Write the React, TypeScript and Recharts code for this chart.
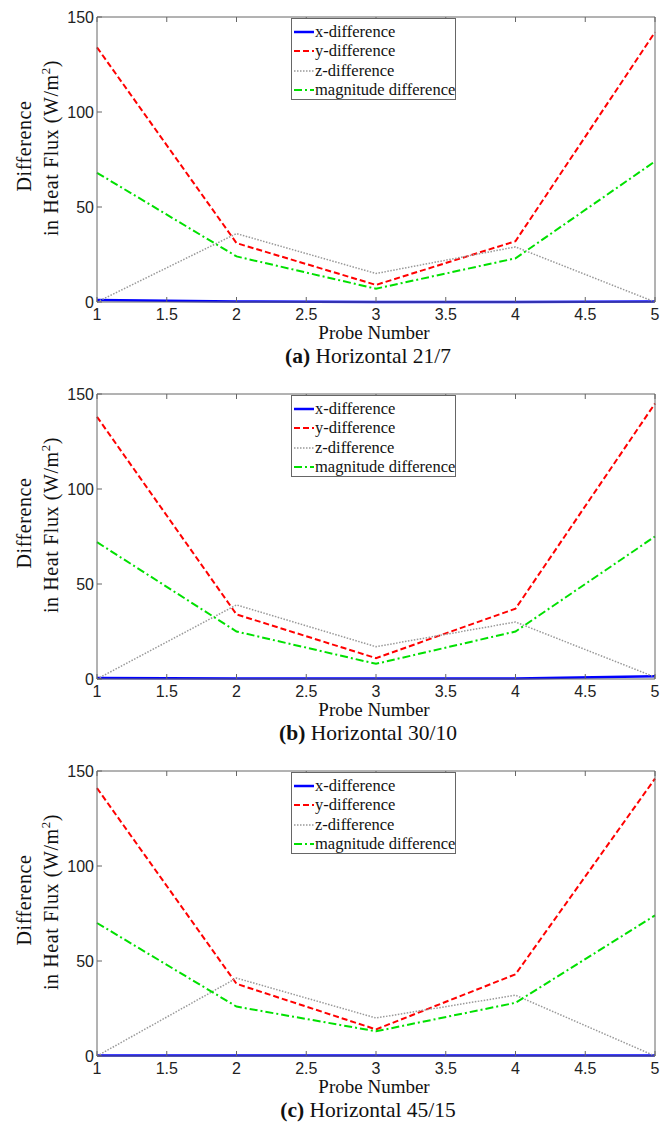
import { LineChart, Line, XAxis, YAxis } from 'recharts';

const probes = [1, 2, 3, 4, 5];
const xTicks = [1, 1.5, 2, 2.5, 3, 3.5, 4, 4.5, 5];
const yTicks = [0, 50, 100, 150];

// (a) Horizontal 21/7
const xDiffA = [1, 0.3, 0, 0, 0.2];
const yDiffA = [134, 31, 9, 32, 142];
const zDiffA = [0, 36, 15, 29, 0];
const magDiffA = [68, 24, 7, 23, 74];

// (b) Horizontal 30/10
const xDiffB = [0.5, 0.3, 0.2, 0.3, 1.5];
const yDiffB = [138, 34, 11, 37, 145];
const zDiffB = [0, 39, 17, 30, 1];
const magDiffB = [72, 25, 8, 25, 75];

// (c) Horizontal 45/15
const xDiffC = [0.2, 0.2, 0.2, 0.2, 0.2];
const yDiffC = [141, 38, 14, 43, 146];
const zDiffC = [0, 41, 20, 32, 0];
const magDiffC = [70, 26, 13, 28, 74];

const series = [
  { key: 'x', name: 'x-difference', color: '#0000ff', width: 2.5, dash: undefined },
  { key: 'y', name: 'y-difference', color: '#ff0000', width: 2, dash: '6 3' },
  { key: 'z', name: 'z-difference', color: '#999999', width: 1.5, dash: '1.5 1.5' },
  { key: 'm', name: 'magnitude difference', color: '#00e000', width: 2, dash: '8 3 2 3' },
];

const panels = [
  { tag: '(a)', title: 'Horizontal 21/7', x: xDiffA, y: yDiffA, z: zDiffA, m: magDiffA },
  { tag: '(b)', title: 'Horizontal 30/10', x: xDiffB, y: yDiffB, z: zDiffB, m: magDiffB },
  { tag: '(c)', title: 'Horizontal 45/15', x: xDiffC, y: yDiffC, z: zDiffC, m: magDiffC },
];

const AXIS = '#666';
const SERIF = '"Liberation Serif", "Times New Roman", serif';
const SANS = '"Liberation Sans", Arial, sans-serif';

const BottomTick = ({ x, y, payload }: any) => (
  <g>
    <line x1={x} x2={x} y1={y} y2={y - 5} stroke={AXIS} />
    <text x={x} y={y + 18} textAnchor="middle" fontSize={16} fontFamily={SANS} fill="#222">
      {payload.value}
    </text>
  </g>
);
const TopTick = ({ x, y }: any) => <line x1={x} x2={x} y1={y} y2={y + 5} stroke={AXIS} />;
const LeftTick = ({ x, y, payload }: any) => (
  <g>
    <line x1={x} x2={x + 5} y1={y} y2={y} stroke={AXIS} />
    <text x={x - 3} y={y + 6} textAnchor="end" fontSize={16} fontFamily={SANS} fill="#222">
      {payload.value}
    </text>
  </g>
);
const RightTick = ({ x, y }: any) => <line x1={x} x2={x - 5} y1={y} y2={y} stroke={AXIS} />;

const LegendBox = () => (
  <div
    style={{
      position: 'absolute',
      left: 291,
      top: 18,
      width: 165,
      height: 82,
      border: `1px solid ${AXIS}`,
      background: '#fff',
      fontFamily: SERIF,
      fontSize: 16.5,
      color: '#111',
      paddingTop: 3,
      boxSizing: 'border-box',
    }}
  >
    {series.map((s) => (
      <div key={s.key} style={{ display: 'flex', alignItems: 'center', height: 19.5 }}>
        <svg width={23} height={10} style={{ flex: 'none' }}>
          <line x1={2} x2={22} y1={5} y2={5} stroke={s.color} strokeWidth={s.width} strokeDasharray={s.dash} />
        </svg>
        <span style={{ whiteSpace: 'nowrap' }}>{s.name}</span>
      </div>
    ))}
  </div>
);

const txt = (extra: any) => ({
  position: 'absolute' as const,
  fontFamily: SERIF,
  whiteSpace: 'nowrap' as const,
  color: '#111',
  lineHeight: 1,
  ...extra,
});

function Panel({ p }: { p: (typeof panels)[number] }) {
  const data = probes.map((n, i) => ({ probe: n, x: p.x[i], y: p.y[i], z: p.z[i], m: p.m[i] }));
  return (
    <div style={{ position: 'relative', width: 668, height: 377 }}>
      <LineChart width={668} height={377} data={data} margin={{ top: 16, right: 12, bottom: 44, left: 36 }}>
        <XAxis
          xAxisId="b"
          dataKey="probe"
          type="number"
          domain={[1, 5]}
          ticks={xTicks}
          tickSize={0}
          tickMargin={0}
          tick={<BottomTick />}
          height={31}
          stroke={AXIS}
        />
        <XAxis
          xAxisId="t"
          orientation="top"
          dataKey="probe"
          type="number"
          domain={[1, 5]}
          ticks={xTicks}
          tickSize={0}
          tickMargin={0}
          tick={<TopTick />}
          height={1}
          stroke={AXIS}
        />
        <YAxis
          yAxisId="l"
          domain={[0, 150]}
          ticks={yTicks}
          tickSize={0}
          tickMargin={0}
          tick={<LeftTick />}
          width={61}
          stroke={AXIS}
        />
        <YAxis
          yAxisId="r"
          orientation="right"
          domain={[0, 150]}
          ticks={yTicks}
          tickSize={0}
          tickMargin={0}
          tick={<RightTick />}
          width={1}
          stroke={AXIS}
        />
        {series.map((s) => (
          <Line
            key={s.key}
            xAxisId="b"
            yAxisId="l"
            dataKey={s.key}
            name={s.name}
            stroke={s.color}
            strokeWidth={s.width}
            strokeDasharray={s.dash}
            dot={false}
            isAnimationActive={false}
          />
        ))}
      </LineChart>
      <LegendBox />
      <div style={txt({ left: 24, top: 146, fontSize: 20, letterSpacing: 0.6, transform: 'translate(-50%, -50%) rotate(-90deg)' })}>
        Difference
      </div>
      <div style={txt({ left: 51, top: 148, fontSize: 20, letterSpacing: 0.6, transform: 'translate(-50%, -50%) rotate(-90deg)' })}>
        in Heat Flux (W/m<sup style={{ fontSize: 13, lineHeight: 0 }}>2</sup>)
      </div>
      <div style={txt({ left: 374, top: 323, fontSize: 19, transform: 'translateX(-50%)' })}>Probe Number</div>
      <div style={txt({ left: 368, top: 346, fontSize: 21.5, transform: 'translateX(-50%)' })}>
        <b>{p.tag}</b> {p.title}
      </div>
    </div>
  );
}

export default function App() {
  return (
    <div style={{ position: 'absolute', left: 0, top: 0, width: 668, height: 1122, background: '#fff' }}>
      {panels.map((p) => (
        <Panel key={p.tag} p={p} />
      ))}
    </div>
  );
}
